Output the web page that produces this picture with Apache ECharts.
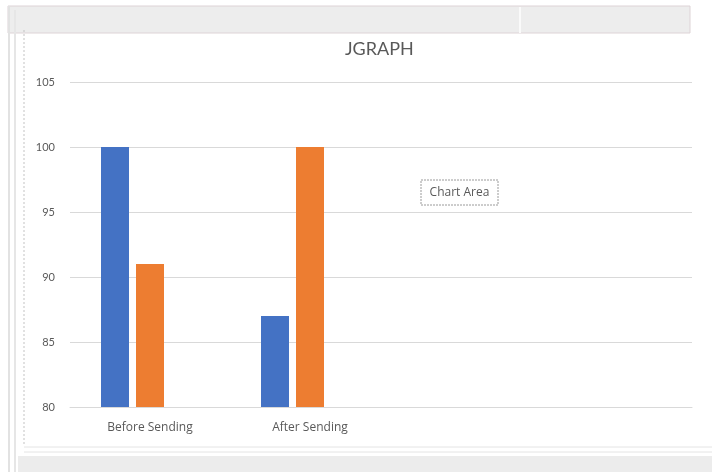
<!DOCTYPE html>
<html>
<head>
<meta charset="utf-8">
<script src="https://cdn.jsdelivr.net/npm/echarts@6/dist/echarts.min.js"></script>
<style>
  html, body { margin: 0; padding: 0; background: #ffffff; }
  #chart { width: 712px; height: 472px; }
</style>
</head>
<body>
<div id="chart"></div>
<script>
// Categories along the x axis (the last two slots are unused)
const categories = ['Before Sending', 'After Sending', '', ''];
// Series values
const series1 = [100, 87, null, null];
const series2 = [91, 100, null, null];
const series3 = [null, null, null, null]; // empty third series keeps its slot in each group
// Value axis
const yMin = 80;
const yMax = 105;
const yStep = 5;

const FONT = 'Lato, "Open Sans", sans-serif';
const LABEL_FONT = '"Open Sans", Lato, sans-serif';
const TEXT = '#595959';

const chart = echarts.init(document.getElementById('chart'), null, { renderer: 'canvas' });

chart.setOption({
  animation: false,
  backgroundColor: '#ffffff',
  title: {
    text: 'JGRAPH',
    left: 340,
    top: 35,
    textStyle: { fontFamily: FONT, fontSize: 18, fontWeight: 'normal', color: TEXT }
  },
  grid: [
    // gridline frame
    { left: 70, right: 20, top: 82, bottom: 65 },
    // bar plotting area
    { left: 70, width: 640, top: 82, bottom: 65 }
  ],
  xAxis: [
    {
      type: 'category', gridIndex: 0, data: categories,
      axisLine: { show: true, lineStyle: { color: '#d9d9d9', width: 1 } },
      axisTick: { show: false },
      axisLabel: { show: false },
      splitLine: { show: false }
    },
    {
      type: 'category', gridIndex: 1, data: categories,
      axisLine: { show: false },
      axisTick: { show: false },
      axisLabel: { show: true, margin: 15, fontFamily: LABEL_FONT, fontSize: 12, color: TEXT }
    }
  ],
  yAxis: [
    {
      type: 'value', gridIndex: 0, min: yMin, max: yMax, interval: yStep,
      axisLine: { show: false },
      axisTick: { show: false },
      axisLabel: { margin: 15, fontFamily: FONT, fontSize: 11, color: TEXT },
      splitLine: { show: true, lineStyle: { color: '#d9d9d9', width: 1 } }
    },
    {
      type: 'value', gridIndex: 1, min: yMin, max: yMax, interval: yStep,
      show: false
    }
  ],
  series: [
    {
      type: 'bar', xAxisIndex: 1, yAxisIndex: 1, data: series1,
      barWidth: 28, barGap: '25%',
      itemStyle: { color: '#4472C4' }
    },
    {
      type: 'bar', xAxisIndex: 1, yAxisIndex: 1, data: series2,
      barWidth: 28, barGap: '25%',
      itemStyle: { color: '#ED7D31' }
    },
    {
      type: 'bar', xAxisIndex: 1, yAxisIndex: 1, data: series3,
      barWidth: 28, barGap: '25%',
      itemStyle: { color: '#A5A5A5' }
    }
  ],
  graphic: [
    // window chrome: top strip
    { type: 'rect', shape: { x: 8, y: 6, width: 682, height: 27 },
      style: { fill: '#ededed', stroke: '#ddd3d6', lineWidth: 1 }, z: -10 },
    { type: 'line', shape: { x1: 520, y1: 7, x2: 520, y2: 33 },
      style: { stroke: '#fafafa', lineWidth: 2 }, z: -9 },
    // left edge lines
    { type: 'line', shape: { x1: 9, y1: 6, x2: 9, y2: 472 },
      style: { stroke: '#e2e2e2', lineWidth: 2 }, z: -10 },
    { type: 'line', shape: { x1: 15, y1: 10, x2: 15, y2: 472 },
      style: { stroke: '#e6e6e6', lineWidth: 2 }, z: -10 },
    { type: 'line', shape: { x1: 24, y1: 30, x2: 24, y2: 446 },
      style: { stroke: '#c4c4c4', lineWidth: 1, lineDash: [2, 2] }, z: -10 },
    // bottom strip
    { type: 'line', shape: { x1: 24, y1: 447, x2: 712, y2: 447 },
      style: { stroke: '#e4e4e4', lineWidth: 1 }, z: -10 },
    { type: 'line', shape: { x1: 24, y1: 452, x2: 712, y2: 452 },
      style: { stroke: '#e4e4e4', lineWidth: 1 }, z: -10 },
    { type: 'rect', shape: { x: 18, y: 456, width: 694, height: 16 },
      style: { fill: '#ececec' }, z: -10 },
    // hover label box
    { type: 'rect', shape: { x: 421, y: 180, width: 77, height: 25 },
      style: { fill: '#ffffff', stroke: '#9a9a9a', lineWidth: 1, lineDash: [2, 1] }, z: 20 },
    { type: 'text', x: 459.5, y: 192.5, z: 21,
      style: { text: 'Chart Area', fontFamily: LABEL_FONT, fontSize: 12, fill: TEXT,
               align: 'center', verticalAlign: 'middle' } }
  ]
});
</script>
</body>
</html>
